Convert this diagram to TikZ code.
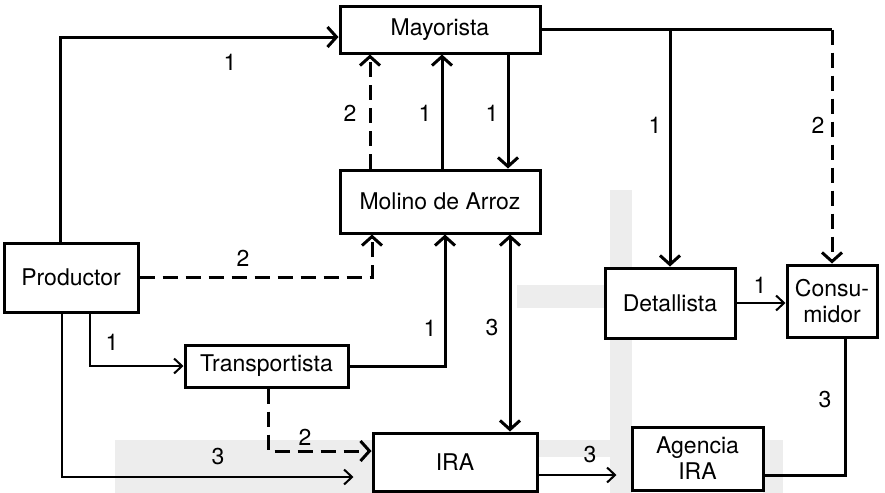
\documentclass[tikz,border=0pt]{standalone}
\usepackage{fontspec}
\setmainfont{TeX Gyre Heros}
\usetikzlibrary{arrows.meta,positioning}

\begin{document}
\begin{tikzpicture}[x=0.5pt,y=-0.5pt]
  \tikzset{tipV/.tip={Straight Barb[length=4.5pt,width=10pt]}}
  \tikzset{tipv/.tip={Straight Barb[length=4pt,width=7.5pt]}}
  \tikzset{agent/.style = {shape=rectangle,draw,line width=1.5pt,fill=white,inner sep=1pt,align=center,font=\fontsize{11.5}{13}\selectfont}}
  \tikzset{num/.style = {inner sep=0pt,font=\fontsize{11.5}{13}\selectfont}}
  \tikzset{flow/.style = {line width=1.5pt,-tipV}}
  \tikzset{dflow/.style = {line width=1.5pt,dash pattern=on 7.5pt off 4pt,-tipV}}
  \tikzset{thinflow/.style = {line width=1pt,-tipv}}
  \tikzset{scan/.style = {fill=black!7,draw=none}}

  \useasboundingbox (0,0) rectangle (885,493);

  % faint grey stripes of the scan
  \fill[scan] (115,440) rectangle (373,493);
  \fill[scan] (537,440) rectangle (632,457);
  \fill[scan] (610,190) rectangle (632,493);
  \fill[scan] (517,285) rectangle (717,308);
  \fill[scan] (763,440) rectangle (783,493);

	\node[agent,minimum width=100pt,minimum height=23.5pt] (MAY) at (440,29.5) {Mayorista};
	\node[agent,minimum width=100pt,minimum height=31.5pt] (MOL) at (440,201.5) {Molino de Arroz};
	\node[agent,minimum width=67pt,minimum height=34.5pt] (PRO) at (71,277.5) {Productor};
	\node[agent,minimum width=81.5pt,minimum height=21pt] (TRA) at (266.5,366) {Transportista};
	\node[agent,minimum width=82pt,minimum height=29pt] (IRA) at (455,462) {IRA};
	\node[agent,minimum width=65pt,minimum height=35pt] (DET) at (670,303) {Detallista};
	\node[agent,minimum width=45pt,minimum height=36pt] (CON) at (832,301) {Consu-\\midor};
	\node[agent,minimum width=65.5pt,minimum height=31.5pt] (AGE) at (697.5,458.5) {Agencia\\IRA};

	\coordinate (mayR) at (MAY.east -| CON.north);
	\coordinate (mayD) at (MAY.east -| DET.north);

    % productor
    \draw[flow] ([xshift=-5.5pt]PRO.north) |- ([yshift=-3.75pt]MAY.west);
    \draw[dflow] (PRO.east) -| ([xshift=-34pt]MOL.south);
    \draw[thinflow] ([xshift=9.5pt]PRO.south) |- (TRA.west);
    \draw[thinflow] ([xshift=-4.5pt]PRO.south) |- ([xshift=-9pt,yshift=-7.5pt]IRA.west);

    % molino y mayorista
    \draw[dflow] ([xshift=-35pt]MOL.north) -- ([xshift=-35pt]MAY.south);
    \draw[flow] ([xshift=1pt]MOL.north) -- ([xshift=1pt]MAY.south);
    \draw[flow,tipV-] ([xshift=34pt]MOL.north) -- ([xshift=34pt]MAY.south);
    \draw[flow,tipV-tipV] ([xshift=35pt]MOL.south) -- ([xshift=27.5pt]IRA.north);

    % transportista
    \draw[flow] (TRA.east) -| ([xshift=2.5pt]MOL.south);
    \draw[dflow] ([xshift=0.75pt]TRA.south) |- ([yshift=5.5pt]IRA.west);

    % mayorista hacia la derecha
    \draw[line width=1.5pt] (MAY.east) -- (mayR);
    \draw[flow] (mayD) -- (DET.north);
    \draw[dflow] (mayR) -- (CON.north);
    \draw[thinflow] (DET.east) -- (DET.east -| CON.west);

    % IRA
    \draw[thinflow] ([yshift=-6.5pt]IRA.east) -- +(39pt,0);
    \draw[line width=1.5pt] ([xshift=6.5pt]CON.south) |- ([yshift=-8.25pt]AGE.east);

    \foreach \nm/\x/\y/\t in {n1/230/62/1, n2/243/258/2, n3/350/113/2, n4/425/113/1, n5/492/113/1,
                              n6/655/125/1, n7/818/125/2, n8/430/328/1, n9/492/328/3, n10/112/342/1,
                              n11/218/457/3, n12/305/437/2, n13/590/455/3, n14/825/400/3, n15/760/285/1}
    \node[num] (\nm) at (\x,\y) {\t};

\end{tikzpicture}
\end{document}
